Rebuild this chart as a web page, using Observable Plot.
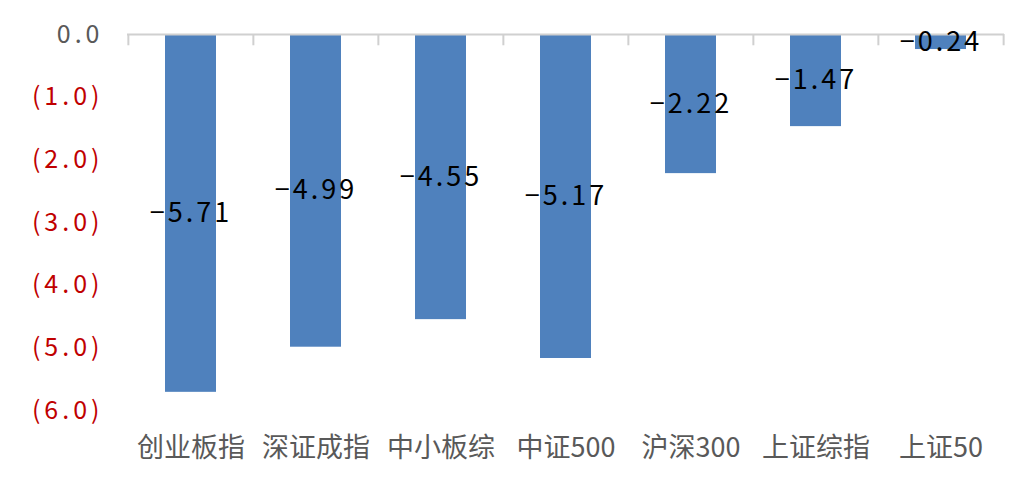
<!DOCTYPE html>
<html><head><meta charset="utf-8">
<script src="https://cdn.jsdelivr.net/npm/d3@7"></script>
<script src="https://cdn.jsdelivr.net/npm/@observablehq/plot@0.6"></script>
<style>body{margin:0;background:#fff;font-family:"Noto Sans CJK SC","Noto Sans",sans-serif}</style>
</head><body><div id="chart"></div>
<script>
const categories = ["创业板指","深证成指","中小板综","中证500","沪深300","上证综指","上证50"];
const values = [-5.71,-4.99,-4.55,-5.17,-2.22,-1.47,-0.24];
const yTicks = [0,-1,-2,-3,-4,-5,-6];

const data = categories.map((c,i)=>({cat:c, v:values[i]}));
const W = 1023, H = 485, mL = 127, mR = 19, mT = 34, mB = 75;
const step = (W - mL - mR) / categories.length;
const fmtTick = d => d === 0 ? "0.0" : `(${Math.abs(d).toFixed(1)})`;
const fmtVal = d => (d < 0 ? "\u2212" : "") + Math.abs(d).toFixed(2);

const plot = Plot.plot({
  width: W, height: H,
  marginLeft: mL, marginRight: mR, marginTop: mT, marginBottom: mB,
  style: {fontFamily: '"Noto Sans CJK SC","Noto Sans",sans-serif', background: "#fff"},
  x: {domain: categories, paddingInner: 0.59, paddingOuter: 0.295, label: null, axis: null},
  y: {domain: [-6, 0], label: null, axis: null},
  marks: [
    Plot.barY(data, {x: "cat", y: "v", fill: "#4f81bd"}),
    Plot.ruleY([0], {stroke: "#d0d0d0", strokeWidth: 2}),
    Plot.ruleX(categories, {x: d => d, y1: 0, y2: -0.18, dx: -step/2, stroke: "#d0d0d0", strokeWidth: 2}),
    Plot.ruleX([categories[categories.length-1]], {x: d => d, y1: 0, y2: -0.18, dx: step/2, stroke: "#d0d0d0", strokeWidth: 2}),
    Plot.text(data, {x: "cat", y: d => d.v/2, text: d => fmtVal(d.v), fontSize: 27, fill: "#000"}),
    Plot.text(yTicks, {y: d => d, frameAnchor: "left", textAnchor: "end", dx: -24, text: fmtTick, fontSize: 25,
      fill: d => d === 0 ? "#595959" : "#c00000", className: "ytick"}),
    Plot.axisX({anchor: "bottom", tickSize: 0, tickPadding: 27, fontSize: 27, color: "#595959", label: null})
  ]
});
plot.querySelectorAll("text").forEach(t => {
  const s = t.textContent;
  if (/^\(/.test(s) || s === "0.0") t.setAttribute("letter-spacing", "4");
  else if (/^[\u22120-9]/.test(s)) t.setAttribute("letter-spacing", "3");
});
document.getElementById("chart").appendChild(plot);
</script></body></html>
